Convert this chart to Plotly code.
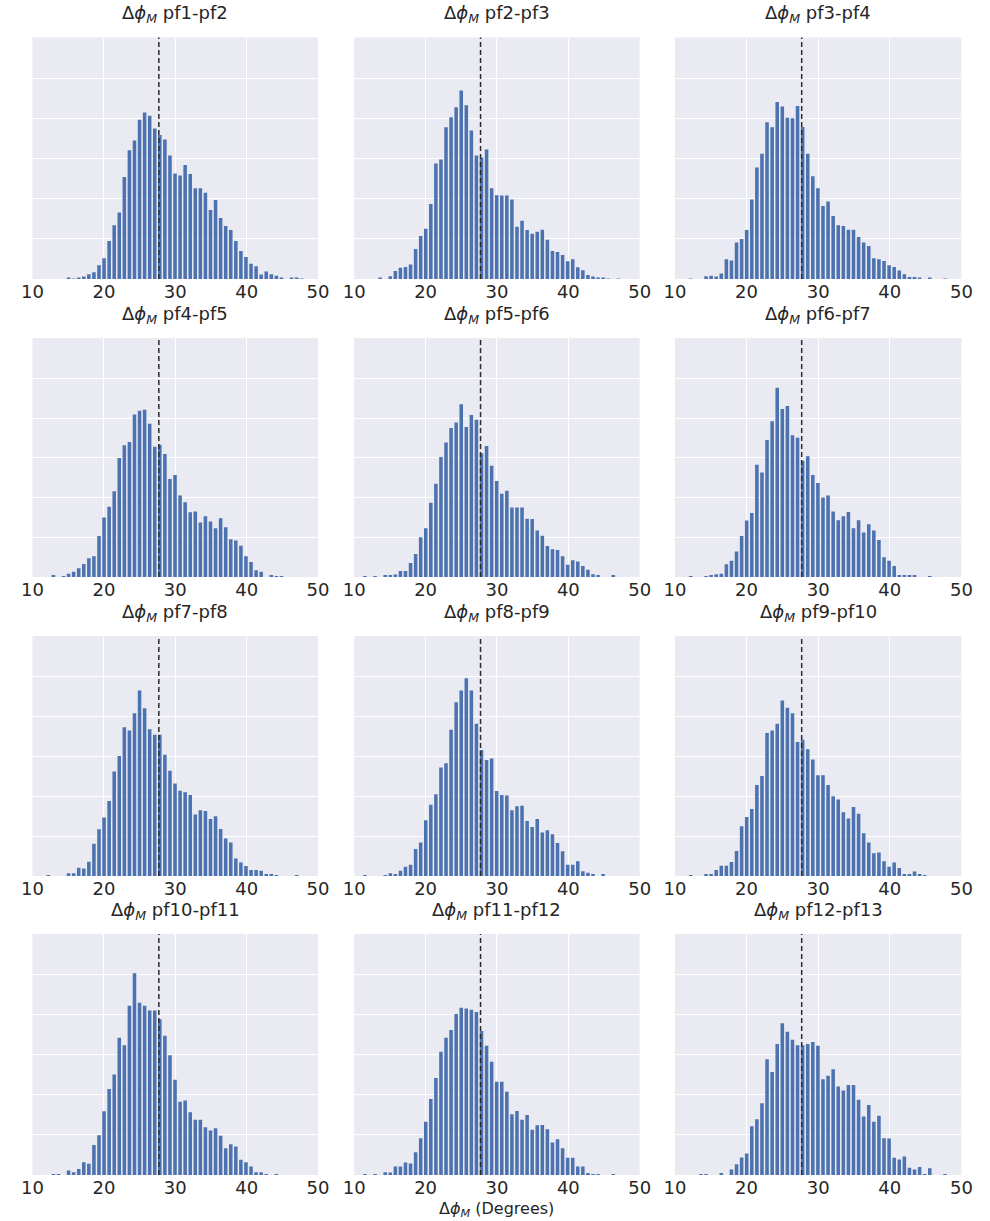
import plotly.graph_objects as go

# ---------------- data ----------------
titles = ["pf1-pf2", "pf2-pf3", "pf3-pf4", "pf4-pf5", "pf5-pf6", "pf6-pf7",
          "pf7-pf8", "pf8-pf9", "pf9-pf10", "pf10-pf11", "pf11-pf12", "pf12-pf13"]

bin_start = 11.15
bin_width = 0.71
n_bins = 53
bin_centers = [round(bin_start + bin_width * (i + 0.5), 3) for i in range(n_bins)]

vline_x = 27.7
x_ticks = [10, 20, 30, 40, 50]

counts_pf1_pf2 = [0, 0, 0, 0, 0, 2, 1, 3, 6, 12, 17, 34, 52, 95, 134, 166, 254, 321, 345, 397, 415, 407, 375, 359,
                  348, 308, 263, 258, 284, 262, 226, 226, 215, 172, 197, 152, 132, 122, 95, 70, 55, 38, 32, 11, 19,
                  12, 8, 3, 0, 4, 2, 1, 0]
counts_pf2_pf3 = [0, 0, 0, 2, 0, 7, 20, 28, 30, 36, 75, 107, 125, 187, 288, 298, 378, 403, 428, 470, 433, 370, 308,
                  303, 323, 226, 209, 208, 208, 198, 130, 145, 122, 113, 118, 123, 98, 70, 67, 60, 44, 49, 29, 22, 10,
                  6, 3, 2, 1, 0, 1, 0, 0]
counts_pf3_pf4 = [0, 1, 0, 0, 7, 8, 6, 14, 49, 46, 91, 100, 122, 198, 278, 312, 391, 378, 441, 430, 402, 401, 431,
                  379, 312, 256, 226, 182, 193, 157, 134, 132, 123, 123, 105, 91, 82, 52, 49, 45, 34, 30, 21, 12, 5, 5,
                  2, 0, 3, 0, 0, 1, 0]
counts_pf4_pf5 = [0, 0, 3, 0, 1, 8, 13, 22, 33, 47, 52, 103, 150, 177, 216, 300, 332, 340, 409, 419, 421, 386, 328,
                  333, 310, 247, 257, 205, 188, 163, 165, 137, 153, 140, 123, 148, 125, 95, 92, 79, 52, 38, 17, 13, 0,
                  3, 1, 1, 0, 0, 0, 0, 0]
counts_pf5_pf6 = [1, 0, 1, 0, 3, 3, 6, 15, 15, 35, 58, 100, 123, 187, 235, 302, 339, 375, 389, 435, 378, 408, 396,
                  312, 330, 280, 242, 210, 217, 175, 175, 175, 147, 146, 117, 104, 78, 70, 68, 52, 31, 42, 39, 28, 18,
                  7, 5, 0, 0, 3, 0, 0, 0]
counts_pf6_pf7 = [0, 1, 0, 0, 2, 3, 7, 8, 32, 41, 64, 103, 142, 161, 283, 263, 345, 392, 477, 423, 431, 357, 351,
                  293, 304, 257, 237, 200, 205, 165, 143, 153, 164, 123, 143, 112, 133, 117, 93, 50, 41, 28, 3, 3, 3,
                  5, 0, 0, 1, 0, 0, 0, 0]
counts_pf7_pf8 = [0, 1, 0, 0, 0, 7, 7, 21, 19, 36, 81, 117, 147, 188, 262, 301, 373, 365, 408, 465, 421, 368, 354,
                  354, 304, 264, 232, 214, 210, 203, 154, 165, 163, 143, 150, 118, 94, 84, 44, 34, 25, 15, 15, 13, 3,
                  3, 1, 0, 0, 0, 1, 0, 0]
counts_pf8_pf9 = [2, 0, 0, 0, 1, 7, 3, 13, 23, 28, 68, 84, 140, 179, 205, 272, 283, 367, 436, 465, 496, 465, 382,
                  316, 291, 295, 213, 203, 202, 165, 175, 176, 138, 123, 143, 109, 115, 105, 83, 62, 28, 28, 37, 12, 8,
                  5, 0, 3, 0, 0, 0, 0, 0]
counts_pf9_pf10 = [0, 1, 0, 0, 5, 5, 15, 26, 26, 35, 63, 125, 148, 168, 228, 251, 359, 365, 382, 440, 422, 408, 336,
                   342, 318, 292, 253, 253, 228, 200, 192, 160, 144, 173, 156, 107, 84, 57, 59, 37, 23, 34, 20, 5, 4,
                   11, 3, 2, 0, 0, 0, 0, 0]
counts_pf10_pf11 = [0, 0, 1, 2, 0, 11, 7, 15, 32, 28, 75, 99, 159, 215, 251, 343, 324, 423, 504, 430, 423, 411, 411,
                    389, 348, 299, 238, 183, 186, 157, 138, 138, 119, 111, 117, 98, 67, 77, 71, 38, 32, 21, 7, 7, 2,
                    0, 1, 0, 0, 0, 0, 0, 0]
counts_pf11_pf12 = [1, 0, 1, 0, 7, 6, 21, 21, 31, 29, 57, 92, 133, 190, 242, 308, 343, 362, 402, 418, 416, 413, 407,
                    360, 323, 283, 233, 233, 208, 152, 160, 138, 150, 113, 124, 125, 114, 81, 89, 67, 43, 43, 21, 21,
                    4, 2, 2, 0, 0, 2, 0, 0, 0]
counts_pf12_pf13 = [0, 0, 0, 1, 1, 0, 0, 4, 0, 14, 27, 44, 54, 122, 139, 179, 289, 257, 327, 379, 358, 338, 324, 324,
                    327, 332, 323, 239, 248, 264, 221, 211, 225, 225, 188, 146, 175, 133, 148, 92, 91, 43, 39, 46, 18,
                    14, 20, 2, 17, 0, 0, 1, 0]

all_counts = [counts_pf1_pf2, counts_pf2_pf3, counts_pf3_pf4, counts_pf4_pf5, counts_pf5_pf6, counts_pf6_pf7,
              counts_pf7_pf8, counts_pf8_pf9, counts_pf9_pf10, counts_pf10_pf11, counts_pf11_pf12, counts_pf12_pf13]

# ---------------- layout geometry (pixels) ----------------
W, H = 990, 1221
col_px = [(22, 314), (351, 643), (679, 972)]
row_px = [(37.5, 279), (338, 577), (636, 876), (934, 1175)]

BAR_COLOR = "#4C72B0"
BG = "#EAEAF2"
TXT = "#262626"
FONT = "DejaVu Sans"

fig = go.Figure()
layout_axes = {}
annotations = []
shapes = []

for i, (title, cnt) in enumerate(zip(titles, all_counts)):
    r, c = divmod(i, 3)
    idx = i + 1
    xname = "x" if idx == 1 else f"x{idx}"
    yname = "y" if idx == 1 else f"y{idx}"
    xkey = "xaxis" if idx == 1 else f"xaxis{idx}"
    ykey = "yaxis" if idx == 1 else f"yaxis{idx}"

    fig.add_trace(go.Bar(x=bin_centers, y=cnt, xaxis=xname, yaxis=yname,
                         marker=dict(color=BAR_COLOR, line=dict(width=0)),
                         showlegend=False, hoverinfo="x+y"))

    x0, x1 = col_px[c]
    y0, y1 = row_px[r]
    layout_axes[xkey] = dict(domain=[x0 / W, x1 / W], range=[10, 50], tickvals=x_ticks,
                             showgrid=True, gridcolor="white", gridwidth=1.2, zeroline=False,
                             showline=False, ticks="", anchor=yname,
                             tickfont=dict(size=18, color=TXT, family=FONT))
    layout_axes[ykey] = dict(domain=[1 - y1 / H, 1 - y0 / H], range=[0, 602], tick0=0, dtick=100,
                             showgrid=True, gridcolor="white", gridwidth=1.2, zeroline=False,
                             showline=False, showticklabels=False, ticks="", anchor=xname)

    shapes.append(dict(type="line", xref=xname, yref=f"{yname} domain",
                       x0=vline_x, x1=vline_x, y0=0, y1=1,
                       line=dict(color="#2a2a2a", width=1.5, dash="5px,3px")))

    annotations.append(dict(text=f"Δ<i>ϕ</i><sub><i>M</i></sub> {title}", xref="paper", yref="paper",
                            x=(x0 + x1) / 2 / W, y=1 - y0 / H, xanchor="center", yanchor="bottom",
                            yshift=9, showarrow=False,
                            font=dict(size=18, color=TXT, family=FONT)))

annotations.append(dict(text="Δ<i>ϕ</i><sub><i>M</i></sub> (Degrees)", xref="paper", yref="paper",
                        x=497 / W, y=1 - 1209 / H, xanchor="center", yanchor="middle",
                        showarrow=False, font=dict(size=16, color=TXT, family=FONT)))

fig.update_layout(width=W, height=H, autosize=False,
                  margin=dict(l=0, r=0, t=0, b=0),
                  paper_bgcolor="white", plot_bgcolor=BG,
                  bargap=0.3, font=dict(family=FONT, color=TXT),
                  annotations=annotations, shapes=shapes, **layout_axes)

fig.write_html("out.html")
